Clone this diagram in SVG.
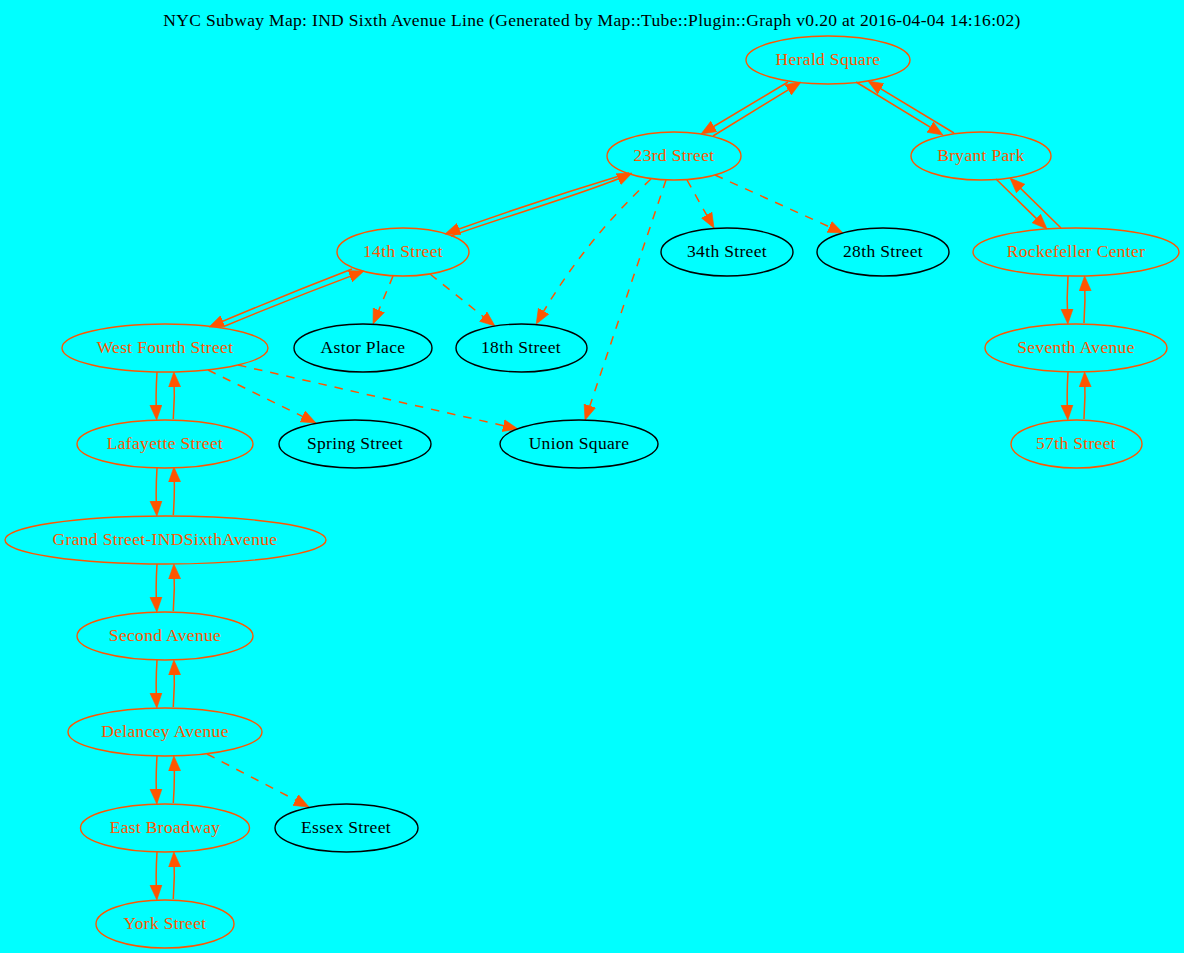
<svg xmlns="http://www.w3.org/2000/svg" width="1184" height="953" viewBox="0 0 1184 953">
<style>
text{font-family:"Liberation Serif","Times New Roman",serif;font-size:17.5px;letter-spacing:.33px;text-anchor:middle}
.n ellipse{fill:none;stroke:#ff5500;stroke-width:1.4}
.n text{fill:#ff5500}
.k ellipse{fill:none;stroke:#000;stroke-width:1.4}
.k text{fill:#000}
#connectors path{fill:none;stroke:#ff5500;stroke-width:1.5;marker-end:url(#a)}
#connectors path.d{stroke-dasharray:8.5 8}
</style>
<defs><marker id="a" markerUnits="userSpaceOnUse" markerWidth="20" markerHeight="16" refX="12" refY="6.5" orient="auto"><path d="M0 .5L15 6.5L0 12.5Z" fill="#ff5500" stroke="#ff5500" stroke-width=".6"/></marker></defs>
<rect width="1184" height="953" fill="#00ffff"/>
<text x="592" y="25.5" fill="#000">NYC Subway Map: IND Sixth Avenue Line (Generated by Map::Tube::Plugin::Graph v0.20 at 2016-04-04 14:16:02)</text>
<g id="connectors">
<path d="M788 82L703.6 132.5"/>
<path d="M713 136L798.4 83.6"/>
<path d="M856 82L940.4 133.4"/>
<path d="M954 133L870.6 82.6"/>
<path d="M996 179L1044.9 226.9"/>
<path d="M1061 228L1012.1 180.1"/>
<path d="M1068 276Q1066.5 298 1067.7 321"/>
<path d="M1084 323Q1085.5 300 1084.7 279"/>
<path d="M1068 372Q1066.5 396 1067.7 417"/>
<path d="M1084 419Q1085.5 396 1084.7 375"/>
<path d="M629 173Q538 200.5 447.8 233"/>
<path d="M451 236C500 218 590 192 629.3 174.3"/>
<path d="M352 269Q281 296.5 211.8 325.9"/>
<path d="M225 326Q292 298 361.2 272.1"/>
<path d="M157 372Q155.5 396 156.5 417"/>
<path d="M173.3 419Q175 396 174 375"/>
<path d="M157 468Q155.5 492 156.7 513"/>
<path d="M173.3 515Q175 492 174 470"/>
<path d="M157 564Q155.5 588 156.7 609"/>
<path d="M173.3 611Q175 588 174 567"/>
<path d="M157 660Q155.5 684 156.7 705"/>
<path d="M173.3 707Q175 684 174 663"/>
<path d="M157 756Q155.5 780 156.7 801"/>
<path d="M173.3 803Q175 780 174 759"/>
<path d="M157 852Q155.5 876 156.7 897"/>
<path d="M173.3 899Q175 876 174 855"/>
<path class="d" d="M208 370L313.3 421.7"/>
<path class="d" d="M238 365L515 428.3"/>
<path class="d" d="M393 276L374.2 321.2"/>
<path class="d" d="M430 274L492.6 324.1"/>
<path class="d" d="M651 179Q582.6 242.8 537.7 321.5"/>
<path class="d" d="M666 180L586 417.2"/>
<path class="d" d="M687 180L712.5 225.4"/>
<path class="d" d="M715 175L840.3 231.8"/>
<path class="d" d="M207 754L306.3 805.6"/>
</g>
<g id="herald" class="n"><ellipse cx="828" cy="60" rx="82" ry="24"/><text x="828" y="65">Herald Square</text></g>
<g id="s23" class="n"><ellipse cx="674" cy="156" rx="67" ry="24"/><text x="674" y="161">23rd Street</text></g>
<g id="bryant" class="n"><ellipse cx="981" cy="156" rx="70" ry="24"/><text x="981" y="161">Bryant Park</text></g>
<g id="s14" class="n"><ellipse cx="403" cy="252" rx="66" ry="24"/><text x="403" y="257">14th Street</text></g>
<g id="s34" class="k"><ellipse cx="727" cy="252" rx="66" ry="24"/><text x="727" y="257">34th Street</text></g>
<g id="s28" class="k"><ellipse cx="883" cy="252" rx="66" ry="24"/><text x="883" y="257">28th Street</text></g>
<g id="rock" class="n"><ellipse cx="1076" cy="252" rx="103" ry="24"/><text x="1076" y="257">Rockefeller Center</text></g>
<g id="west4" class="n"><ellipse cx="165" cy="348" rx="103" ry="24"/><text x="165" y="353">West Fourth Street</text></g>
<g id="astor" class="k"><ellipse cx="363" cy="348" rx="69" ry="24"/><text x="363" y="353">Astor Place</text></g>
<g id="s18" class="k"><ellipse cx="521.5" cy="348" rx="65.5" ry="24"/><text x="521" y="353">18th Street</text></g>
<g id="seventh" class="n"><ellipse cx="1076" cy="348" rx="91" ry="24"/><text x="1076" y="353">Seventh Avenue</text></g>
<g id="lafayette" class="n"><ellipse cx="165" cy="444" rx="88" ry="24"/><text x="165" y="449">Lafayette Street</text></g>
<g id="spring" class="k"><ellipse cx="355" cy="444" rx="76" ry="24"/><text x="355" y="449">Spring Street</text></g>
<g id="union" class="k"><ellipse cx="579" cy="444" rx="79" ry="24"/><text x="579" y="449">Union Square</text></g>
<g id="s57" class="n"><ellipse cx="1076.5" cy="444" rx="65.5" ry="24"/><text x="1076" y="449">57th Street</text></g>
<g id="grand" class="n"><ellipse cx="165.5" cy="540" rx="160.5" ry="24"/><text x="165" y="545">Grand Street-INDSixthAvenue</text></g>
<g id="second" class="n"><ellipse cx="165" cy="636" rx="88" ry="24"/><text x="165" y="641">Second Avenue</text></g>
<g id="delancey" class="n"><ellipse cx="165" cy="732" rx="97" ry="24"/><text x="165" y="737">Delancey Avenue</text></g>
<g id="eastb" class="n"><ellipse cx="165" cy="828" rx="84.5" ry="24"/><text x="165" y="833">East Broadway</text></g>
<g id="essex" class="k"><ellipse cx="346.5" cy="828" rx="71.5" ry="24"/><text x="346" y="833">Essex Street</text></g>
<g id="york" class="n"><ellipse cx="165" cy="924" rx="69" ry="24"/><text x="165" y="929">York Street</text></g>
</svg>
